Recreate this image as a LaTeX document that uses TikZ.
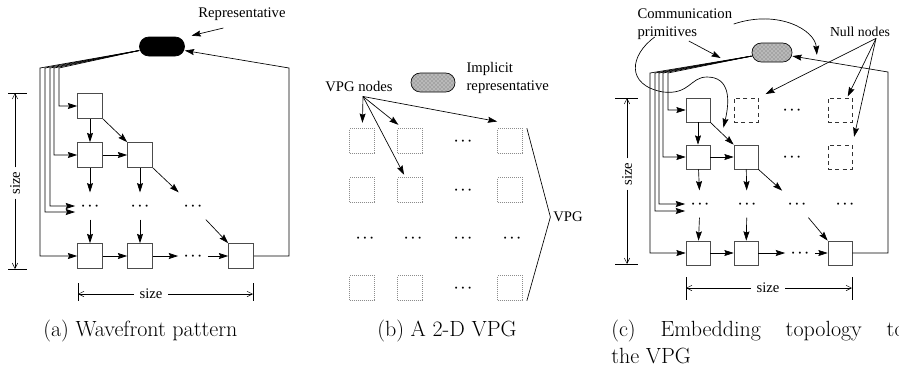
\documentclass[tikz,border=0pt]{standalone}
\usepackage{fontspec}
\newfontfamily\lblfont{Liberation Serif}
\usetikzlibrary{arrows.meta, patterns}

\begin{document}
\begin{tikzpicture}[x=0.75pt, y=-0.75pt,
    cell/.style={rectangle, draw=black!70, line width=0.5pt, minimum size=18.75pt, inner sep=0pt},
    vpgcell/.style={cell, draw=black!45, densely dotted},
    nullcell/.style={cell, minimum size=18pt, draw=black!80, dash pattern=on 3pt off 2.5pt},
    gap/.style={minimum width=22pt, minimum height=20pt, inner sep=0pt, font=\boldmath},
    rep/.style={rectangle, rounded corners=7pt, draw=black, line width=0.5pt, minimum height=14.25pt, inner sep=0pt},
    hatched/.style={fill=gray!55, postaction={pattern=crosshatch dots, pattern color=black!60}},
    lbl/.style={font=\lblfont\fontsize{11}{13.5}\selectfont, inner sep=1pt},
    captext/.style={font=\fontsize{16.5}{20.5}\selectfont, inner sep=0pt},
    arrow/.style={->, >={Stealth[length=7pt, width=4.5pt, inset=1pt]}, line width=0.5pt},
    dim/.style={->, >={Straight Barb[length=4pt, width=4pt]}, line width=0.4pt},
    link/.style={line width=0.5pt}
    ]
    \useasboundingbox (0,0) rectangle (899,369);

    % (a) Wavefront pattern
    \node[rep, fill=black, minimum width=33.75pt] (rep_a) at (162,46.5) {};
    \node[lbl] (lab_rep) at (242,14) {Representative};
    \node[cell] (a11) at (90,106) {};
    \node[cell] (a21) at (90,155) {};
    \node[cell] (a22) at (140,155) {};
    \node[gap] (a31) at (90,206) {$\cdots$};
    \node[gap] (a32) at (140,206) {$\cdots$};
    \node[gap] (a33) at (193,206) {$\cdots$};
    \node[cell] (a41) at (90,256) {};
    \node[cell] (a42) at (140,256) {};
    \node[gap] (a43) at (193,256) {$\cdots$};
    \node[cell] (a44) at (241,256) {};
    \coordinate (fa1) at (40,68);
    \coordinate (fa2) at (45,68);
    \coordinate (fa3) at (50,68);
    \coordinate (fa4) at (54,68);
    \coordinate (fa5) at (59,68);
    \coordinate (ra) at (289,68);

    \draw[arrow] ([shift={(-14pt,-4.5pt)}]lab_rep.south) -- ([shift={(5pt,0.75pt)}]rep_a.north east);
    \draw[arrow] (a11) -- (a21);
    \draw[arrow] (a11.south east) -- (a22.north west);
    \draw[arrow] (a21) -- (a22);
    \draw[arrow] (a21) -- (a31);
    \draw[arrow] (a22) -- (a32);
    \draw[arrow] (a22.south east) -- (a33);
    \draw[arrow] (a31) -- (a41);
    \draw[arrow] (a32) -- (a42);
    \draw[arrow] (a33) -- (a44.north west);
    \draw[arrow] (a41) -- (a42);
    \draw[arrow] (a42) -- (a43);
    \draw[arrow] (a43) -- (a44);
    \draw[arrow] (rep_a.190) -- (fa5) |- (a11);
    \draw[arrow] (rep_a.190) -- (fa4) |- (a21);
    \draw[arrow] (rep_a.190) -- (fa3) |- (a31);
    \draw[arrow] (rep_a.190) -- (fa2) |- ([yshift=-4.5pt]a31.west);
    \draw[arrow] (rep_a.190) -- (fa1) |- (a41);
    \draw[arrow] (a44) -| (ra) -- (rep_a.350);

    \node[lbl, rotate=90, inner sep=3pt] (sza_v) at (15,183) {size};
    \coordinate (dva_t) at (15,93);
    \coordinate (dva_b) at (15,269);
    \draw[dim] (sza_v) -- (dva_t);
    \draw[dim] (sza_v) -- (dva_b);
    \draw[link] ([xshift=-5pt]dva_t) -- ([xshift=9pt]dva_t);
    \draw[link] ([xshift=-5pt]dva_b) -- ([xshift=9pt]dva_b);
    \node[lbl, inner sep=4pt] (sza_h) at (151,294) {size};
    \coordinate (dha_l) at (78,294);
    \coordinate (dha_r) at (253,294);
    \draw[dim] (sza_h) -- (dha_l);
    \draw[dim] (sza_h) -- (dha_r);
    \draw[link] ([yshift=8pt]dha_l) -- ([yshift=-5pt]dha_l);
    \draw[link] ([yshift=8pt]dha_r) -- ([yshift=-5pt]dha_r);

    % (b) A 2-D VPG
    \node[rep, hatched, minimum width=33pt] (rep_b) at (433,82.5) {};
    \node[lbl, anchor=west, align=left] (lab_impl) at (465,78) {Implicit\\representative};
    \node[lbl] (lab_vpgn) at (359,87) {VPG nodes};
    \node[vpgcell] (b11) at (362,141) {};
    \node[vpgcell] (b12) at (410,141) {};
    \node[gap] (b13) at (463,141) {$\cdots$};
    \node[vpgcell] (b14) at (510,141) {};
    \node[vpgcell] (b21) at (362,190) {};
    \node[vpgcell] (b22) at (410,190) {};
    \node[gap] (b23) at (463,190) {$\cdots$};
    \node[vpgcell] (b24) at (510,190) {};
    \node[gap] (b31) at (365,238) {$\cdots$};
    \node[gap] (b32) at (413,238) {$\cdots$};
    \node[gap] (b33) at (463,238) {$\cdots$};
    \node[gap] (b34) at (512,238) {$\cdots$};
    \node[vpgcell] (b41) at (362,288) {};
    \node[vpgcell] (b42) at (410,288) {};
    \node[gap] (b43) at (463,288) {$\cdots$};
    \node[vpgcell] (b44) at (510,288) {};
    \node[lbl] (lab_vpg) at (568,217) {VPG};
    \coordinate (vn) at ([shift={(3pt,-2pt)}]lab_vpgn.south);

    \draw[arrow, shorten >=4pt] (vn) -- (b11);
    \draw[arrow, shorten >=4pt] (vn) -- (b12.120);
    \draw[arrow] (vn) -- ([yshift=5pt]b14.north west);
    \draw[arrow, shorten >=2pt] (vn) -- (b22.110);
    \draw[link] ([xshift=3pt]b14.north east) -- ([xshift=-1pt]lab_vpg.west) -- ([xshift=3pt]b44.south east);

    % (c) Embedding topology to the VPG
    \node[rep, hatched, minimum width=30pt] (rep_c) at (772,52.5) {};
    \node[lbl, anchor=west, align=left] (lab_comm) at (636,24) {Communication\\primitives};
    \node[lbl, font=\lblfont\fontsize{10.3}{12}\selectfont] (lab_null) at (860,32) {Null nodes};
    \node[cell, minimum size=18pt] (c11) at (698,110) {};
    \node[nullcell] (c12) at (746,110) {};
    \node[gap] (c13) at (792,110) {$\cdots$};
    \node[nullcell] (c14) at (840,110) {};
    \node[cell, minimum size=18pt] (c21) at (698,157) {};
    \node[cell, minimum size=18pt] (c22) at (746,157) {};
    \node[gap] (c23) at (792,157) {$\cdots$};
    \node[nullcell] (c24) at (840,157) {};
    \node[gap] (c31) at (700,204) {$\cdots$};
    \node[gap] (c32) at (747,204) {$\cdots$};
    \node[gap] (c33) at (797,204) {$\cdots$};
    \node[gap] (c34) at (845,204) {$\cdots$};
    \node[cell, minimum size=18pt] (c41) at (698,253) {};
    \node[cell, minimum size=18pt] (c42) at (746,253) {};
    \node[gap] (c43) at (800,253) {$\cdots$};
    \node[cell, minimum size=18pt] (c44) at (840,253) {};
    \coordinate (fc1) at (650,73);
    \coordinate (fc2) at (655,73);
    \coordinate (fc3) at (659,73);
    \coordinate (fc4) at (663,73);
    \coordinate (fc5) at (668,73);
    \coordinate (rc) at (888,72);

    \draw[arrow] (c11) -- (c21);
    \draw[arrow] (c11.south east) -- coordinate[pos=0.5] (cp_diag) (c22.north west);
    \draw[arrow] (c21) -- (c22);
    \draw[arrow] (c21) -- (c31);
    \draw[arrow] (c22) -- (c32);
    \draw[arrow] (c22.south east) -- (c33);
    \draw[arrow] (c31) -- (c41);
    \draw[arrow] (c32) -- (c42);
    \draw[arrow] (c33) -- (c44.north west);
    \draw[arrow] (c41) -- (c42);
    \draw[arrow] (c42) -- (c43);
    \draw[arrow] (c43) -- (c44);
    \draw[arrow] (rep_c.190) -- coordinate[pos=0.3] (cp_fan) (fc5) |- (c11);
    \draw[arrow] (rep_c.190) -- (fc4) |- (c21);
    \draw[arrow] (rep_c.190) -- (fc3) |- (c31);
    \draw[arrow] (rep_c.190) -- (fc2) |- ([yshift=-5.25pt]c31.west);
    \draw[arrow] (rep_c.190) -- (fc1) |- (c41);
    \draw[arrow] (c44) -| (rc) -- coordinate[pos=0.74] (cp_fb) (rep_c.350);

    \draw[arrow, shorten >=4pt] (lab_comm.east) .. controls +(45,-15) and +(-2,-30) .. (cp_fb);
    \draw[arrow, shorten >=5pt] ([xshift=3pt]lab_comm.south) -- (cp_fan);
    \draw[arrow, shorten >=4.5pt] ([shift={(14pt,3pt)}]lab_comm.south west) .. controls (630,55) and (625,85) .. (663,92) .. controls (690,95) and (690,77) .. (707,77) .. controls (730,77) and (730,100) .. (cp_diag);
    \draw[arrow, shorten >=6pt] ([xshift=12pt]lab_null.south) -- (c12.north east);
    \draw[arrow, shorten >=1pt] ([xshift=12pt]lab_null.south) -- (c14.60);
    \draw[arrow, shorten >=6pt] ([xshift=12pt]lab_null.south) -- (c24.north east);

    \node[lbl, rotate=90, inner sep=3pt] (szc_v) at (627,174) {size};
    \coordinate (dvc_t) at (627,98);
    \coordinate (dvc_b) at (627,264);
    \draw[dim] (szc_v) -- (dvc_t);
    \draw[dim] (szc_v) -- (dvc_b);
    \draw[link] ([xshift=-9pt]dvc_t) -- ([xshift=8pt]dvc_t);
    \draw[link] ([xshift=-9pt]dvc_b) -- ([xshift=8pt]dvc_b);
    \node[lbl, inner sep=4pt] (szc_h) at (768,288) {size};
    \coordinate (dhc_l) at (686,288);
    \coordinate (dhc_r) at (852,288);
    \draw[dim] (szc_h) -- (dhc_l);
    \draw[dim] (szc_h) -- (dhc_r);
    \draw[link] ([yshift=8pt]dhc_l) -- ([yshift=-9pt]dhc_l);
    \draw[link] ([yshift=8pt]dhc_r) -- ([yshift=-9pt]dhc_r);

    % Captions
    \node[captext, anchor=base west] (cap_a) at (43,336) {(a) Wavefront pattern};
    \node[captext, anchor=base west] (cap_b) at (377,336) {(b) A 2-D VPG};
    \node[captext, anchor=base west, text width=220pt, align=justify] (cap_c) at (611,336) {(c) Embedding topology to\linebreak the VPG};

\end{tikzpicture}
\end{document}
